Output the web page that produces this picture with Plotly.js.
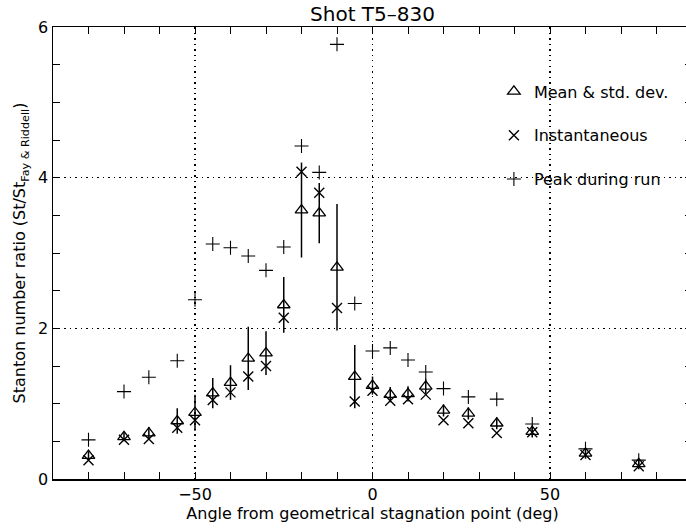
<!DOCTYPE html>
<html>
<head>
<meta charset="utf-8">
<script src="https://cdn.plot.ly/plotly-3.0.1.min.js"></script>
<style>
html,body{margin:0;padding:0;overflow:hidden;background:#fff;}
#chart{width:700px;height:529px;}
</style>
</head>
<body>
<div id="chart"></div>
<script>
// Angle from geometrical stagnation point (deg)
const angle = [-80,-70,-63,-55,-50,-45,-40,-35,-30,-25,-20,-15,-10,-5,0,5,10,15,20,27,35,45,60,75];
// Mean Stanton number ratio and its standard deviation
const meanRatio = [0.31,0.56,0.61,0.77,0.88,1.14,1.28,1.60,1.67,2.31,3.57,3.53,2.81,1.36,1.24,1.12,1.13,1.23,0.91,0.87,0.74,0.63,0.34,0.20];
const stdDev    = [0.06,0.06,0.08,0.17,0.24,0.20,0.23,0.42,0.29,0.37,0.63,0.40,0.84,0.42,0.12,0.10,0.10,0.10,0.08,0.08,0.08,0.08,0.07,0.07];
// Instantaneous ratio
const instRatio = [0.25,0.52,0.53,0.68,0.78,1.05,1.15,1.36,1.50,2.14,4.08,3.80,2.27,1.03,1.17,1.04,1.06,1.12,0.78,0.74,0.61,0.62,0.32,0.17];
// Peak during run
const peakRatio = [0.52,1.16,1.35,1.57,2.38,3.12,3.07,2.96,2.77,3.08,4.42,4.07,5.77,2.33,1.70,1.74,1.58,1.42,1.20,1.09,1.06,0.73,0.40,0.25];

const seriesNames = ["Mean &amp; std. dev.", "Instantaneous", "Peak during run"];
const FONT = "DejaVu Sans, sans-serif";

const traces = [
  {
    x: angle, y: meanRatio, name: seriesNames[0], type: "scatter", mode: "markers",
    legendgroup: "a",
    marker: {symbol: "triangle-up-open", size: 11, color: "#000", line: {width: 1.3, color: "#000"}},
    error_y: {type: "data", array: stdDev, visible: true, color: "#000", thickness: 1.5, width: 0}
  },
  {
    x: angle, y: instRatio, name: seriesNames[1], type: "scatter", mode: "markers",
    legendgroup: "b",
    marker: {symbol: "x-thin-open", size: 10, color: "#000", line: {width: 1.4, color: "#000"}}
  },
  {
    x: angle, y: peakRatio, name: seriesNames[2], type: "scatter", mode: "markers",
    legendgroup: "c",
    marker: {symbol: "cross-thin-open", size: 10, color: "#000", line: {width: 1.1, color: "#000"}}
  }
];

const axisCommon = {
  showline: true, linecolor: "#000", linewidth: 1.5, mirror: "allticks",
  ticks: "inside", ticklen: 7, tickwidth: 1, tickcolor: "#000",
  showgrid: true, gridcolor: "#000", griddash: "1.5px,4px", gridwidth: 1.2,
  zeroline: false,
  tickfont: {family: FONT, size: 16, color: "#000"}
};

const layout = {
  width: 700, height: 529,
  margin: {l: 53, r: 8, t: 27, b: 50},
  paper_bgcolor: "#fff", plot_bgcolor: "#fff",
  font: {family: FONT, color: "#000"},
  showlegend: true,
  title: {text: "Shot T5\u2013830", x: 0.5, xref: "paper", xanchor: "center",
          y: 1 - 14/529, yref: "container", yanchor: "middle",
          font: {family: FONT, size: 20, color: "#000"}},
  xaxis: Object.assign({}, axisCommon, {
    range: [-90, 90], tick0: 0, dtick: 50, tickformat: "d",
    minor: {dtick: 10, tick0: 0, ticks: "inside", ticklen: 7, tickcolor: "#000", showgrid: false},
    title: {text: "Angle from geometrical stagnation point (deg)", standoff: 0,
            font: {family: FONT, size: 16, color: "#000"}}
  }),
  yaxis: Object.assign({}, axisCommon, {
    range: [0, 6], tick0: 0, dtick: 2,
    minor: {dtick: 0.5, tick0: 0, ticks: "inside", ticklen: 7, tickcolor: "#000", showgrid: false},
    title: {text: "Stanton number ratio (St/St<sub>Fay &amp; Riddell</sub>)", standoff: 8,
            font: {family: FONT, size: 16, color: "#000"}}
  }),
  legend: {
    x: 0.69, y: 0.895, xanchor: "left", yanchor: "top",
    bgcolor: "rgba(0,0,0,0)", borderwidth: 0,
    traceorder: "grouped", tracegroupgap: 20,
    font: {family: FONT, size: 16, color: "#000"}
  }
};

Plotly.newPlot("chart", traces, layout, {displayModeBar: false, staticPlot: true});
</script>
</body>
</html>
